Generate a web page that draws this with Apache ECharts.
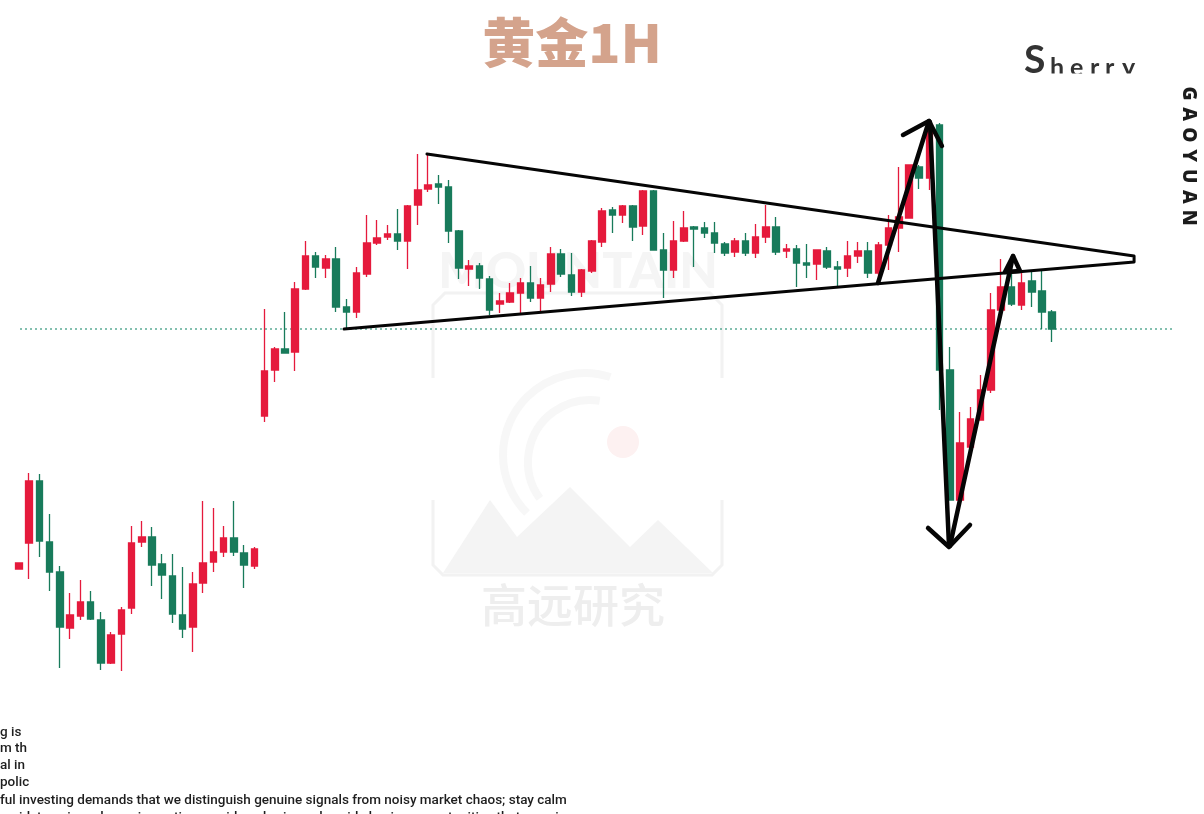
<!DOCTYPE html>
<html><head><meta charset="utf-8">
<script src="https://cdn.jsdelivr.net/npm/echarts@6/dist/echarts.min.js"></script>
<style>html,body{margin:0;padding:0;background:#fff;overflow:hidden}#c{width:1204px;height:814px}</style>
</head><body><div id="c"></div><script>
// ---- candle data (gold, 1H), price units ----
const opens  = [3215.5,3228.5,3259.5,3229,3214,3186,3192,3199,3190,3168.5,3183,3196,3229,3231.5,3218,3212,3192.5,3186.5,3208.5,3219,3224,3231,3223.5,3217,
  3292,3315,3325.5,3324,3355.5,3372,3366,3370.5,3346.5,3344,3363,3378.5,3381.5,3383,3379.5,3397.5,3405.5,3408,3406.5,3384.5,3365.5,3367,3360.5,3348,3349,3353.5,
  3358.5,3351,3358,3373,3362.5,3354,3364.5,3379,3395,3392.5,3397,3387,3404.5,3375,3365,3379.5,3386.5,3386,3383.5,3378,
  3374,3379.5,3373.5,3381.5,3386.5,3374.5,3375.5,3368.5,3368,3374.5,3366.5,3366,3372,3374.5,3363.5,3377.5,3386,3391,3416.5,3411,
  3437.5,3315,3250,3276.5,3290,3305,3345,3356.5,3347.5,3359.5,3354.5,3344];
const closes = [3218.5,3259.5,3229.5,3214,3186.5,3192.5,3199,3190.5,3168.5,3182.5,3195,3228.5,3231.5,3217.5,3212.5,3193,3185.5,3208,3218.5,3224,3231,3224,3217.5,3225.5,
  3314.5,3325.5,3323.5,3355.5,3372,3366.5,3370.5,3346.5,3344,3363.5,3378.5,3381,3383,3379.5,3397,3405,3407.5,3406.5,3384.5,3366,3367,3361,3345,3349.5,3353.5,3358.5,
  3351,3357.5,3373,3363,3354,3365,3379.5,3394.5,3392.5,3397,3386.5,3404.5,3375,3365,3379.5,3386,3385.5,3383.5,3378.5,3373.5,
  3379.5,3373.5,3381.5,3386.5,3374,3375.5,3368.5,3367.5,3375,3366.5,3365.5,3372,3374.5,3363.5,3377.5,3386,3391.5,3417.5,3411,3437.5,
  3315,3250,3278.5,3290.5,3305,3345,3356.5,3348,3358.5,3354,3344,3335.5];
const lows   = [3215.5,3210.5,3221.5,3204.5,3166,3180.5,3190,3190,3165,3168,3164.5,3193,3226.5,3207,3200.5,3188.5,3181,3174,3203.5,3214,3221.5,3222,3206,3215.5,
  3289,3309,3323.5,3314.5,3355,3361,3361,3344,3335.5,3341,3361.5,3377.5,3380,3375,3365.5,3387.5,3404,3398,3378.5,3360.5,3357,3355.5,3342.5,3343.5,3348.5,3343.5,
  3349,3344,3354,3361.5,3352,3351.5,3363.5,3376.5,3383.5,3388.5,3379.5,3382.5,3375,3351,3361,3379,3366.5,3381,3373.5,3372,
  3371.5,3372,3371,3378.5,3372.5,3371,3356.5,3361,3360,3365.5,3357,3361.5,3368.5,3361,3358.5,3365,3374,3391,3405.5,3405,
  3295,3250,3250,3275,3290,3303.5,3342.5,3347,3345,3346.5,3335.5,3329];
const highs  = [3218.5,3263.5,3263,3243,3217,3203.5,3210,3204.5,3194,3184,3196.5,3237,3239.5,3236.5,3223,3223,3216.5,3214,3249.5,3246,3237,3249.5,3227.5,3226.5,
  3345.5,3326.5,3344,3359,3379.5,3374,3372.5,3376.5,3350.5,3366.5,3392.5,3390,3387.5,3395.5,3397.5,3423,3423.5,3412.5,3410,3385,3370,3368.5,3362,3353.5,3358.5,3361,
  3367,3361,3376.5,3375.5,3373.5,3365.5,3380,3396,3396.5,3397.5,3397.5,3405,3405,3383.5,3389.5,3394.5,3387,3389,3389,3379,
  3381,3383.5,3388,3397.5,3391.5,3378,3377.5,3378,3375,3376.5,3369.5,3379.5,3379,3379,3379,3392.5,3416.5,3417.5,3417.5,3440,
  3438.5,3326.5,3294,3296.5,3312.5,3353.5,3370.5,3367.5,3364,3364.5,3364.5,3345];
const slotCount = 116;                 // hourly slots on the axis (last ones empty)
// ---- drawn annotations, in (bar index, price) ----
const triangleOutline = [[31.77,3335.5],[109,3369],[109,3372],[39.88,3423]];
const arrowRiseShaft  = [[83.97,3358.5],[88.95,3439.5]];
const arrowRiseHead   = [[86.41,3432.5],[88.95,3439.5],[90.22,3427]];
const arrowDropShaft  = [[89.05,3439],[90.91,3227]];
const arrowDropHead   = [[88.86,3236],[90.91,3226.5],[92.96,3237.5]];
const arrowBackShaft  = [[91.0,3227],[97.17,3372]];
const arrowBackHead   = [[96.38,3364],[97.17,3372],[97.85,3364.5],[96.38,3364]];
const refLevel = 3335.5;
const refSpan = [0.1, 113];

const RED = '#e51a3c', GREEN = '#187b5b';
const categories = Array.from({length: slotCount}, (_, i) => 'H' + i);
const candles = opens.map((o, i) => [o, closes[i], lows[i], highs[i]]);

function ann(data, width) {
  return {type:'line', xAxisIndex:1, yAxisIndex:0, data, symbol:'none', silent:true, z:6,
    lineStyle:{color:'#050505', width, cap:'round', join:'round'}, animation:false};
}

const chart = echarts.init(document.getElementById('c'), null, {renderer:'canvas'});
const gy = ['G','A','O','Y','U','A','N'].map((ch, i) => ({
  type:'text', x:1188, y:93.5 + i*20.7, rotation:-Math.PI/2, z:50,
  style:{text:ch, fill:'#1c1c1c', font:'800 19px "Open Sans"', textAlign:'center', textVerticalAlign:'middle'}
}));
const sherry = [
  {t:'S', x:1024, f:'bold 39px Lato', y:80},
  {t:'h', x:1050, f:'bold 25px Lato', y:80}, {t:'e', x:1070, f:'bold 25px Lato', y:80},
  {t:'r', x:1090, f:'bold 25px Lato', y:80}, {t:'r', x:1105, f:'bold 25px Lato', y:80},
  {t:'y', x:1122, f:'bold 25px Lato', y:80}
].map(d => ({type:'text', x:d.x, y:d.y, z:50,
  style:{text:d.t, fill:'#333', font:d.f, textAlign:'left', textVerticalAlign:'bottom'}}));
const noteFont = '500 13.5px Roboto';
const notes = [
  {t:'g is', y:733}, {t:'m th', y:749}, {t:'al in', y:766}, {t:'polic', y:783},
  {t:'ful investing demands that we distinguish genuine signals from noisy market chaos; stay calm', y:801},
  {t:'amidst panic and remain cautious amid euphoria, and avoid chasing opportunities that promise', y:818}
].map(d => ({type:'text', x:0, y:d.y, z:50,
  style:{text:d.t, fill:'#1e1e1e', font:noteFont, textAlign:'left', textVerticalAlign:'middle'}}));

chart.setOption({
  animation:false,
  backgroundColor:'#ffffff',
  grid:{left:13.885, right:3.43, top:0, bottom:0, containLabel:false},
  xAxis:[
    {type:'category', data:categories, show:false, boundaryGap:true},
    {type:'value', min:-0.5, max:slotCount-0.5, show:false}
  ],
  yAxis:{type:'value', min:3093, max:3500, show:false, splitLine:{show:false}},
  series:[
    {type:'line', xAxisIndex:1, data:[[refSpan[0],refLevel],[refSpan[1],refLevel]], symbol:'none', silent:true, z:1,
      lineStyle:{color:'#3c9b80', width:1.4, type:[2,3], opacity:0.85}},
    {type:'candlestick', data:candles, barWidth:7, z:3,
      itemStyle:{color:RED, color0:GREEN, borderColor:RED, borderColor0:GREEN, borderWidth:1.3}},
    ann(triangleOutline, 3),
    ann(arrowRiseShaft, 4.5), ann(arrowRiseHead, 4.5),
    ann(arrowDropShaft, 4.5), ann(arrowDropHead, 4.5),
    ann(arrowBackShaft, 4.5), ann(arrowBackHead, 4.5)
  ],
  graphic:[
    // faint watermark
    {type:'text', x:578, y:272, z:-5, style:{text:'MOUNTAIN', fill:'#f5f5f5', font:'900 50px Lato', textAlign:'center', textVerticalAlign:'middle'}},
    {type:'polyline', z:-5, shape:{points:[[433,378],[433,305],[445,293],[710,293],[722,305],[722,378]]}, style:{stroke:'#f2f2f2', lineWidth:3, fill:null}},
    {type:'polyline', z:-5, shape:{points:[[433,500],[433,565],[443,575],[712,575],[722,565],[722,500]]}, style:{stroke:'#f2f2f2', lineWidth:3, fill:null}},
    {type:'arc', z:-5, shape:{cx:585, cy:455, r:82, startAngle:Math.PI*0.75, endAngle:Math.PI*1.6}, style:{stroke:'#f7f7f7', lineWidth:8, fill:null}},
    {type:'arc', z:-5, shape:{cx:590, cy:462, r:62, startAngle:Math.PI*0.8, endAngle:Math.PI*1.55}, style:{stroke:'#f7f7f7', lineWidth:8, fill:null}},
    {type:'circle', z:-5, shape:{cx:623, cy:442, r:16}, style:{fill:'#fdf1f1'}},
    {type:'polygon', z:-5, shape:{points:[[443,573],[490,500],[517,537],[570,487],[630,547],[658,520],[713,573]]}, style:{fill:'#f4f4f4'}},
    {type:'text', x:573, y:605, z:-5, style:{text:'高远研究', fill:'#eeeeee', font:'500 46px "Noto Sans CJK SC"', textAlign:'center', textVerticalAlign:'middle'}},
    // title
    {type:'text', x:572, y:43, z:50, style:{text:'黄金1H', fill:'#d4a38c', font:'900 53px "Noto Sans CJK SC"', textAlign:'center', textVerticalAlign:'middle'}},
    ...sherry,
    {type:'rect', z:60, shape:{x:1015, y:73.5, width:140, height:20}, style:{fill:'#ffffff'}},
    ...gy,
    ...notes,
    {type:'rect', z:60, shape:{x:47.5, y:722, width:80, height:70}, style:{fill:'#ffffff'}}
  ]
});
</script></body></html>
